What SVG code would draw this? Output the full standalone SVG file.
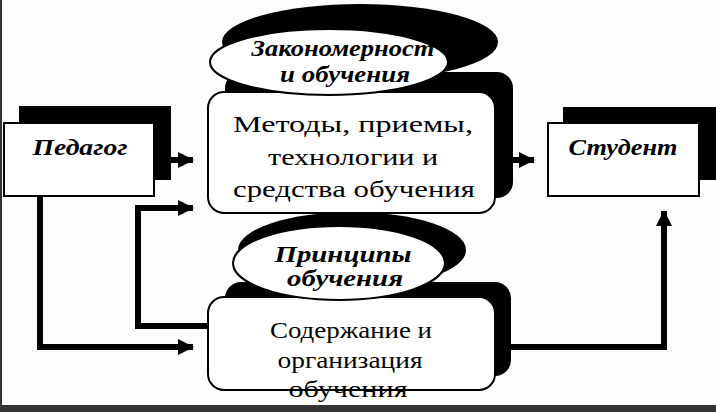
<svg xmlns="http://www.w3.org/2000/svg" width="716" height="412" viewBox="0 0 716 412">
<style>
.box{fill:#fff;stroke:#000;stroke-width:2}
.sh{fill:#000}
.lbl{font-family:"Liberation Serif",serif;font-size:24px;fill:#000;text-anchor:middle}
.bi{font-weight:bold;font-style:italic;font-size:23px}
.con{fill:none;stroke:#000;stroke-width:6;stroke-linejoin:miter}
</style>
<defs>
<marker id="ah" markerUnits="userSpaceOnUse" markerWidth="16" markerHeight="18" refX="15" refY="9" orient="auto">
<path d="M0,1 L16,9 L0,17 Z" fill="#000"/>
</marker>
</defs>
<rect x="0" y="0" width="716" height="412" fill="#fdfdfd"/>
<rect x="0" y="0" width="2" height="412" fill="#333"/>

<g id="connectors">
<path class="con" d="M171,160 L193,160" marker-end="url(#ah)"/>
<path class="con" d="M513,160 L534,160" marker-end="url(#ah)"/>
<path class="con" d="M40,196 L40,347 L193,347" marker-end="url(#ah)"/>
<path class="con" d="M210,326 L138,326 L138,208 L193,208" marker-end="url(#ah)"/>
<path class="con" d="M505,347 L664,347 L664,211" marker-end="url(#ah)"/>
</g>

<g id="pedagog">
<rect class="sh" x="19" y="106" width="152" height="74"/>
<rect class="box" x="4" y="123" width="150" height="73"/>
<text class="lbl bi" x="80" y="155" textLength="95" lengthAdjust="spacingAndGlyphs">Педагог</text>
</g>

<g id="student">
<rect class="sh" x="563" y="107" width="153" height="73"/>
<rect class="box" x="548" y="123" width="151" height="73"/>
<text class="lbl bi" x="623" y="155" textLength="109" lengthAdjust="spacingAndGlyphs">Студент</text>
</g>

<g id="methods">
<rect class="sh" x="225" y="72" width="288" height="126" rx="16"/>
<rect class="box" x="208" y="92" width="287" height="121" rx="16"/>
<text class="lbl" x="353" y="132" textLength="240" lengthAdjust="spacingAndGlyphs">Методы, приемы,</text>
<text class="lbl" x="353" y="165" textLength="170" lengthAdjust="spacingAndGlyphs">технологии и</text>
<text class="lbl" x="354" y="197" textLength="242" lengthAdjust="spacingAndGlyphs">средства обучения</text>
</g>

<g id="zakonomernosti">
<ellipse class="sh" cx="360" cy="42" rx="138" ry="38"/>
<ellipse class="box" cx="329" cy="62" rx="119" ry="33"/>
<text class="lbl bi" x="343" y="56" textLength="183" lengthAdjust="spacingAndGlyphs">Закономерност</text>
<text class="lbl bi" x="345" y="82" textLength="130" lengthAdjust="spacingAndGlyphs">и обучения</text>
</g>

<g id="soderzhanie">
<rect class="sh" x="225" y="282" width="286" height="94" rx="16"/>
<rect class="box" x="208" y="297" width="287" height="93" rx="16"/>
<text class="lbl" x="351" y="338" textLength="162" lengthAdjust="spacingAndGlyphs">Содержание и</text>
<text class="lbl" x="350" y="368" textLength="145" lengthAdjust="spacingAndGlyphs">организация</text>
<text class="lbl" x="348" y="397" textLength="119" lengthAdjust="spacingAndGlyphs">обучения</text>
</g>

<g id="principy">
<ellipse class="sh" cx="352" cy="250" rx="114" ry="38"/>
<ellipse class="box" cx="339" cy="263" rx="106" ry="37"/>
<text class="lbl bi" x="343" y="262" textLength="137" lengthAdjust="spacingAndGlyphs">Принципы</text>
<text class="lbl bi" x="345" y="286" textLength="116" lengthAdjust="spacingAndGlyphs">обучения</text>
</g>

<rect x="0" y="405" width="716" height="7" fill="#333"/>
</svg>
